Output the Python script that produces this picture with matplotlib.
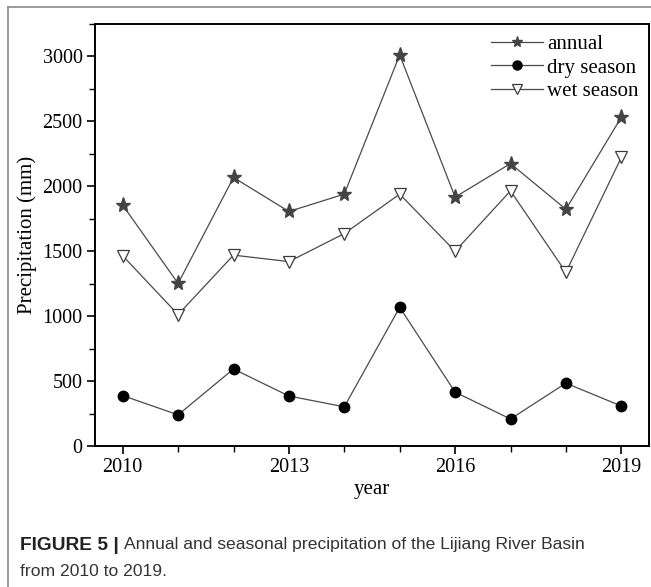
import matplotlib
matplotlib.use("Agg")
import matplotlib.pyplot as plt
from matplotlib.lines import Line2D
from matplotlib.ticker import MultipleLocator

years = [2010, 2011, 2012, 2013, 2014, 2015, 2016, 2017, 2018, 2019]
annual = [1855, 1252, 2068, 1806, 1940, 3012, 1917, 2175, 1823, 2532]
dry = [388, 240, 593, 385, 302, 1068, 415, 208, 484, 308]
wet = [1465, 1012, 1470, 1420, 1636, 1940, 1500, 1965, 1338, 2222]
xticks = [2010, 2013, 2016, 2019]
names = ["annual", "dry season", "wet season"]

W, H = 651, 587
fig = plt.figure(figsize=(W / 100, H / 100), dpi=100)
ax = fig.add_axes([95 / W, 1 - 446 / H, (649 - 95) / W, (446 - 24) / H])

serif = "Liberation Serif"
line_c = "#4a4a4a"
styles = [
    dict(marker="*", mfc="#444444", mec="#444444"),
    dict(marker="o", mfc="black", mec="black"),
    dict(marker="v", mfc="white", mec="#3a3a3a", mew=0.9),
]
sizes = [11, 7.5, 9]
for vals, st, ms in zip([annual, dry, wet], styles, sizes):
    ax.plot(years, vals, color=line_c, lw=0.9, ms=ms, **st)

ax.set_xlim(2009.5, 2019.5)
ax.set_ylim(0, 3250)
ax.set_xticks(xticks)
ax.xaxis.set_minor_locator(MultipleLocator(1))
ax.yaxis.set_major_locator(MultipleLocator(500))
ax.yaxis.set_minor_locator(MultipleLocator(250))
ax.tick_params(which="major", direction="out", length=6, width=1.2,
               labelsize=14.5, pad=3)
ax.tick_params(which="minor", direction="out", length=4, width=1.0)
for lab in ax.get_xticklabels() + ax.get_yticklabels():
    lab.set_fontfamily(serif)
for s in ax.spines.values():
    s.set_linewidth(1.4)

ax.set_xlabel("year", fontsize=15, family=serif, labelpad=2)
ax.set_ylabel("Precipitation (mm)", fontsize=15, family=serif, labelpad=4)

# legend uses smaller symbols than the data markers
handles = [Line2D([], [], color=line_c, lw=0.9, ms=ms, **st)
           for st, ms in zip(styles, [8, 6.5, 7])]
ax.legend(handles, names, loc="upper right", frameon=False,
          prop={"family": serif, "size": 15},
          handlelength=2.5, handletextpad=0.2, labelspacing=0.2,
          borderaxespad=0.1, bbox_to_anchor=(1.0, 1.0))

# page frame around the figure
fig.add_artist(Line2D([8 / W, 8 / W], [0, 1 - 7 / H], transform=fig.transFigure,
                      color="#8a8a8a", lw=1.2))
fig.add_artist(Line2D([8 / W, 1], [1 - 7 / H, 1 - 7 / H], transform=fig.transFigure,
                      color="#8a8a8a", lw=1.2))

# caption
cap = ["Liberation Sans Narrow", "Liberation Sans"]
fig.text(20 / W, 1 - 545 / H, "FIGURE 5 |", fontsize=13.8, weight="bold",
         family=cap, va="center", color="#222222")
fig.text(124 / W, 1 - 545 / H, "Annual and seasonal precipitation of the Lijiang River Basin",
         fontsize=12.6, family=cap, va="center", color="#333333")
fig.text(20 / W, 1 - 572 / H, "from 2010 to 2019.", fontsize=12.6,
         family=cap, va="center", color="#333333")

fig.savefig("out.png", dpi=100)
